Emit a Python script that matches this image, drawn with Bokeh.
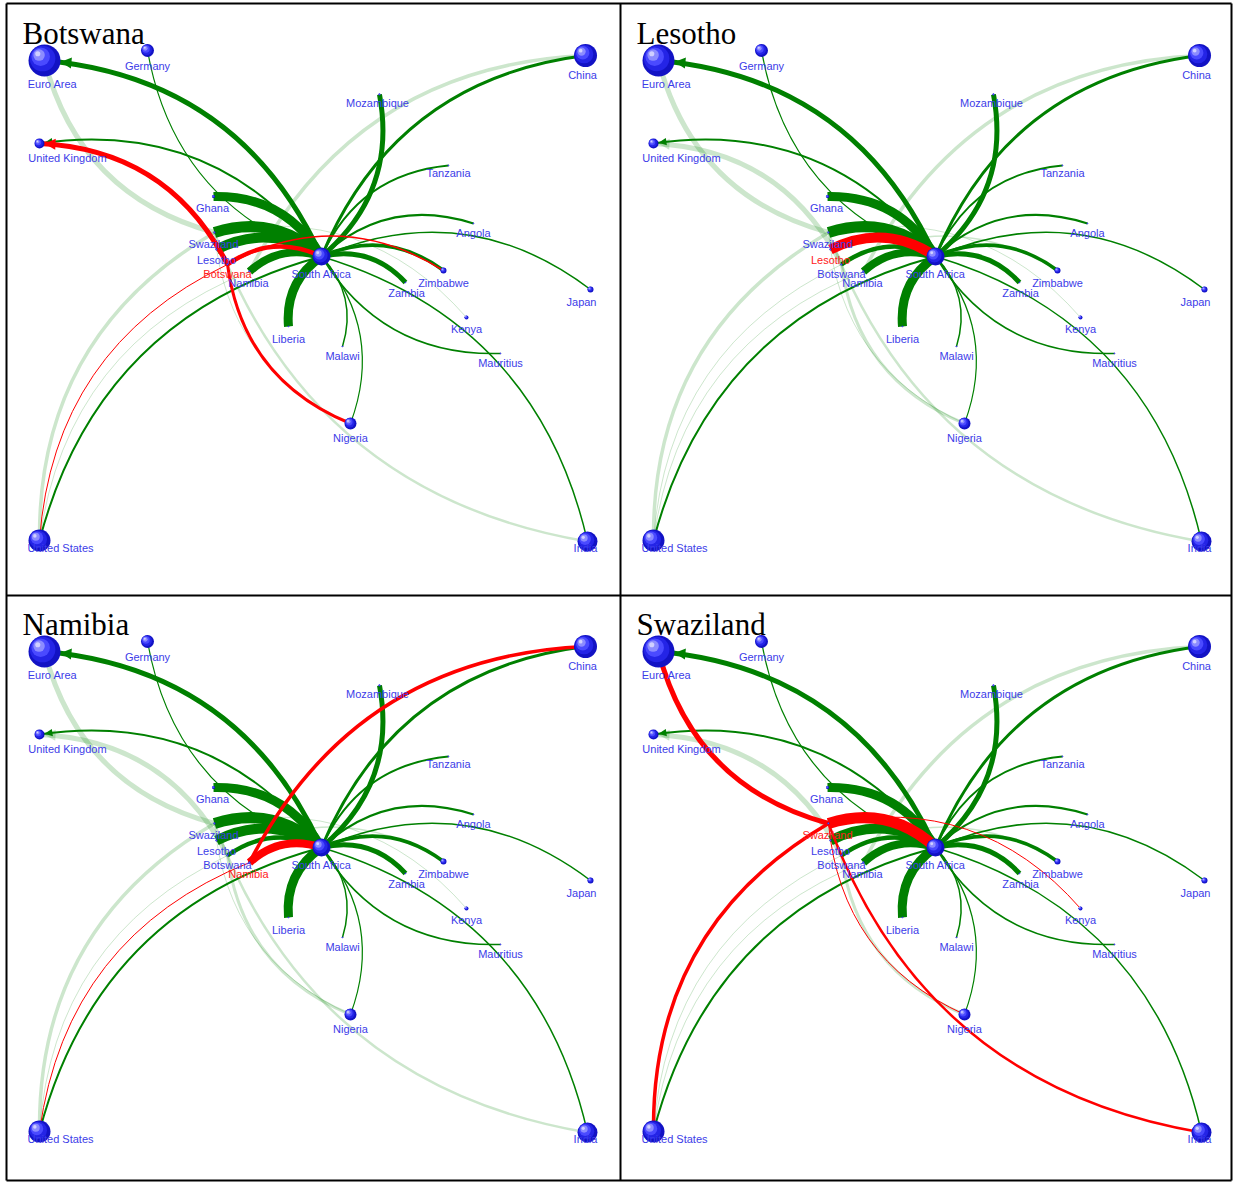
import numpy as np
from bokeh.plotting import figure
from bokeh.models import ColumnDataSource, Range1d
from bokeh.core.properties import value
from bokeh.embed import file_html
from bokeh.resources import INLINE

# ---------------- data ----------------
PANEL_TITLES = ["Botswana", "Lesotho", "Namibia", "Swaziland"]
PANEL_OFFSET_X = [0, 614, 0, 614]
PANEL_OFFSET_Y = [0, 0, 591, 591]

NODE_NAMES = ["Euro Area", "Germany", "China", "Mozambique", "United Kingdom",
              "Tanzania", "Ghana", "Angola", "Swaziland", "Lesotho", "Botswana",
              "Namibia", "South Africa", "Zimbabwe", "Zambia", "Japan", "Kenya",
              "Liberia", "Malawi", "Mauritius", "Nigeria", "United States", "India"]
NODE_X = [44, 147, 585, 379, 39, 448, 213, 473, 214, 216, 227, 249, 321, 443,
          405, 590, 466, 288, 342, 500, 350, 39, 587]
NODE_Y = [60, 50, 55, 94, 143, 165, 196, 223, 232, 249, 264, 271, 256, 270,
          282, 289, 317, 326, 346, 353, 423, 540, 541]
NODE_R = [16, 6.5, 11.5, 1, 5, 0.8, 1.5, 0.8, 1, 1, 1, 1, 9, 3, 0.8, 3, 2,
          0.8, 0.8, 0.8, 6, 11, 10]
LABEL_X = [52, 147, 582, 377, 67, 448, 212, 473, 213, 216, 227, 248, 321, 443,
           406, 581, 466, 288, 342, 500, 350, 60, 585]
LABEL_Y = [83, 65, 74, 102, 157, 172, 207, 232, 243, 259, 273, 282, 273, 282,
           292, 301, 328, 338, 355, 362, 437, 547, 547]

HUB = "South Africa"
EDGE_SOURCE = ["South Africa", "Germany", "China", "South Africa", "South Africa",
               "Tanzania", "South Africa", "Angola", "South Africa", "South Africa",
               "South Africa", "South Africa", "Zimbabwe", "Zambia", "Japan",
               "South Africa", "Malawi", "South Africa", "Nigeria", "South Africa",
               "India",
               "Euro Area", "China", "Swaziland", "Namibia", "Botswana",
               "Swaziland", "Swaziland", "Botswana", "Botswana", "Zimbabwe", "Kenya"]
EDGE_TARGET = ["Euro Area", "South Africa", "South Africa", "Mozambique", "United Kingdom",
               "South Africa", "Ghana", "South Africa", "Swaziland", "Lesotho",
               "Botswana", "Namibia", "South Africa", "South Africa", "South Africa",
               "Liberia", "South Africa", "Mauritius", "South Africa", "United States",
               "South Africa",
               "Swaziland", "Namibia", "United States", "United States", "United States",
               "India", "Nigeria", "Nigeria", "United Kingdom", "Botswana", "Swaziland"]
EDGE_WIDTH = [5, 1.2, 3, 5, 2,
              2, 9, 2, 11, 10,
              4.5, 8, 3.5, 5, 1.5,
              9, 1.5, 1.5, 1.2, 2,
              1.5,
              5, 3.5, 3.5, 1, 1,
              2.5, 1, 3, 5, 1.5, 1]
EDGE_ARROW = [True, False, False, False, True,
              False, False, False, False, False,
              False, False, False, False, False,
              False, False, False, False, False,
              False,
              False, False, False, False, False,
              False, False, False, True, False, False]

CURVATURE = 0.29

# ---------------- geometry ----------------
idx = {n: i for i, n in enumerate(NODE_NAMES)}
nx = np.array(NODE_X, float)
ny = np.array(NODE_Y, float)
nr = np.array(NODE_R, float)

kinds = ["pale", "dark", "red"]
edges = {k: {c: [] for c in ("x0", "y0", "x1", "y1", "cx", "cy", "w")} for k in kinds}
arrows = {k: {"xs": [], "ys": []} for k in kinds}

for title, ox, oy in zip(PANEL_TITLES, PANEL_OFFSET_X, PANEL_OFFSET_Y):
    for s, t, w, arr in zip(EDGE_SOURCE, EDGE_TARGET, EDGE_WIDTH, EDGE_ARROW):
        i, j = idx[s], idx[t]
        x0, y0 = nx[i] + ox, ny[i] + oy
        x1, y1 = nx[j] + ox, ny[j] + oy
        dx, dy = x1 - x0, y1 - y0
        cx = (x0 + x1) / 2 - dy * CURVATURE
        cy = (y0 + y1) / 2 + dx * CURVATURE
        if title in (s, t):
            k = "red"
        elif HUB in (s, t):
            k = "dark"
        else:
            k = "pale"
        e = edges[k]
        e["x0"].append(x0); e["y0"].append(y0)
        e["x1"].append(x1); e["y1"].append(y1)
        e["cx"].append(cx); e["cy"].append(cy)
        e["w"].append(w)
        if arr:
            ux, uy = cx - x1, cy - y1
            n = np.hypot(ux, uy)
            ux, uy = ux / n, uy / n
            tipx, tipy = x1 + ux * nr[j], y1 + uy * nr[j]
            alen = 6 + w
            hw = 2.5 + 0.6 * w
            bx, by = tipx + ux * alen, tipy + uy * alen
            px, py = -uy, ux
            arrows[k]["xs"].append([tipx, bx + px * hw, bx - px * hw])
            arrows[k]["ys"].append([tipy, by + py * hw, by - py * hw])

# ---------------- figure ----------------
p = figure(width=1233, height=1182, x_range=Range1d(0, 1233), y_range=Range1d(1182, 0),
           output_backend="svg", toolbar_location=None, min_border=0,
           x_axis_location=None, y_axis_location=None)
p.grid.visible = False
p.outline_line_color = None
p.background_fill_color = "white"
p.border_fill_color = "white"

style = {"pale": ("#008000", 0.2), "dark": ("#008000", 1.0), "red": ("#ff0000", 1.0)}
for k in kinds:
    col, alpha = style[k]
    src = ColumnDataSource(edges[k])
    p.quadratic(x0="x0", y0="y0", x1="x1", y1="y1", cx="cx", cy="cy", source=src,
                line_width="w", line_color=col, line_alpha=alpha)
    if arrows[k]["xs"]:
        p.patches(xs="xs", ys="ys", source=ColumnDataSource(arrows[k]),
                  fill_color=col, fill_alpha=alpha, line_color=None)

# nodes as shaded spheres
layers = [(1.0, 0.0, "#1212c4"), (0.8, 0.12, "#2424e6"), (0.58, 0.24, "#4a4aff"),
          (0.36, 0.34, "#8c8cff"), (0.16, 0.42, "#d0d0ff")]
for ox, oy in zip(PANEL_OFFSET_X, PANEL_OFFSET_Y):
    for scale, off, col in layers:
        p.circle(x=list(nx + ox - off * nr), y=list(ny + oy - off * nr),
                 radius=list(nr * scale), fill_color=col, line_color=None)

# labels
lx, ly, lt, lc = [], [], [], []
for title, ox, oy in zip(PANEL_TITLES, PANEL_OFFSET_X, PANEL_OFFSET_Y):
    for name, x, y in zip(NODE_NAMES, LABEL_X, LABEL_Y):
        lx.append(x + ox); ly.append(y + oy); lt.append(name)
        lc.append("#ff2020" if name == title else "#3c3ce8")
p.text(x="x", y="y", text="t", text_color="c",
       source=ColumnDataSource(dict(x=lx, y=ly, t=lt, c=lc)),
       text_font=value("Liberation Sans"), text_font_size="11px",
       text_align="center", text_baseline="middle")

# panel titles
p.text(x=[22 + ox for ox in PANEL_OFFSET_X], y=[33 + oy for oy in PANEL_OFFSET_Y],
       text=PANEL_TITLES, text_font=value("Liberation Serif"), text_font_size="31px",
       text_color="black", text_align="left", text_baseline="alphabetic")

# table borders
p.segment(x0=[620, 6, 6, 1231, 6, 6], y0=[3, 595, 3, 3, 3, 1180],
          x1=[620, 1231, 6, 1231, 1231, 1231], y1=[1180, 595, 1180, 1180, 3, 1180],
          line_color="black", line_width=2)

open("out.html", "w").write(file_html(p, INLINE))
